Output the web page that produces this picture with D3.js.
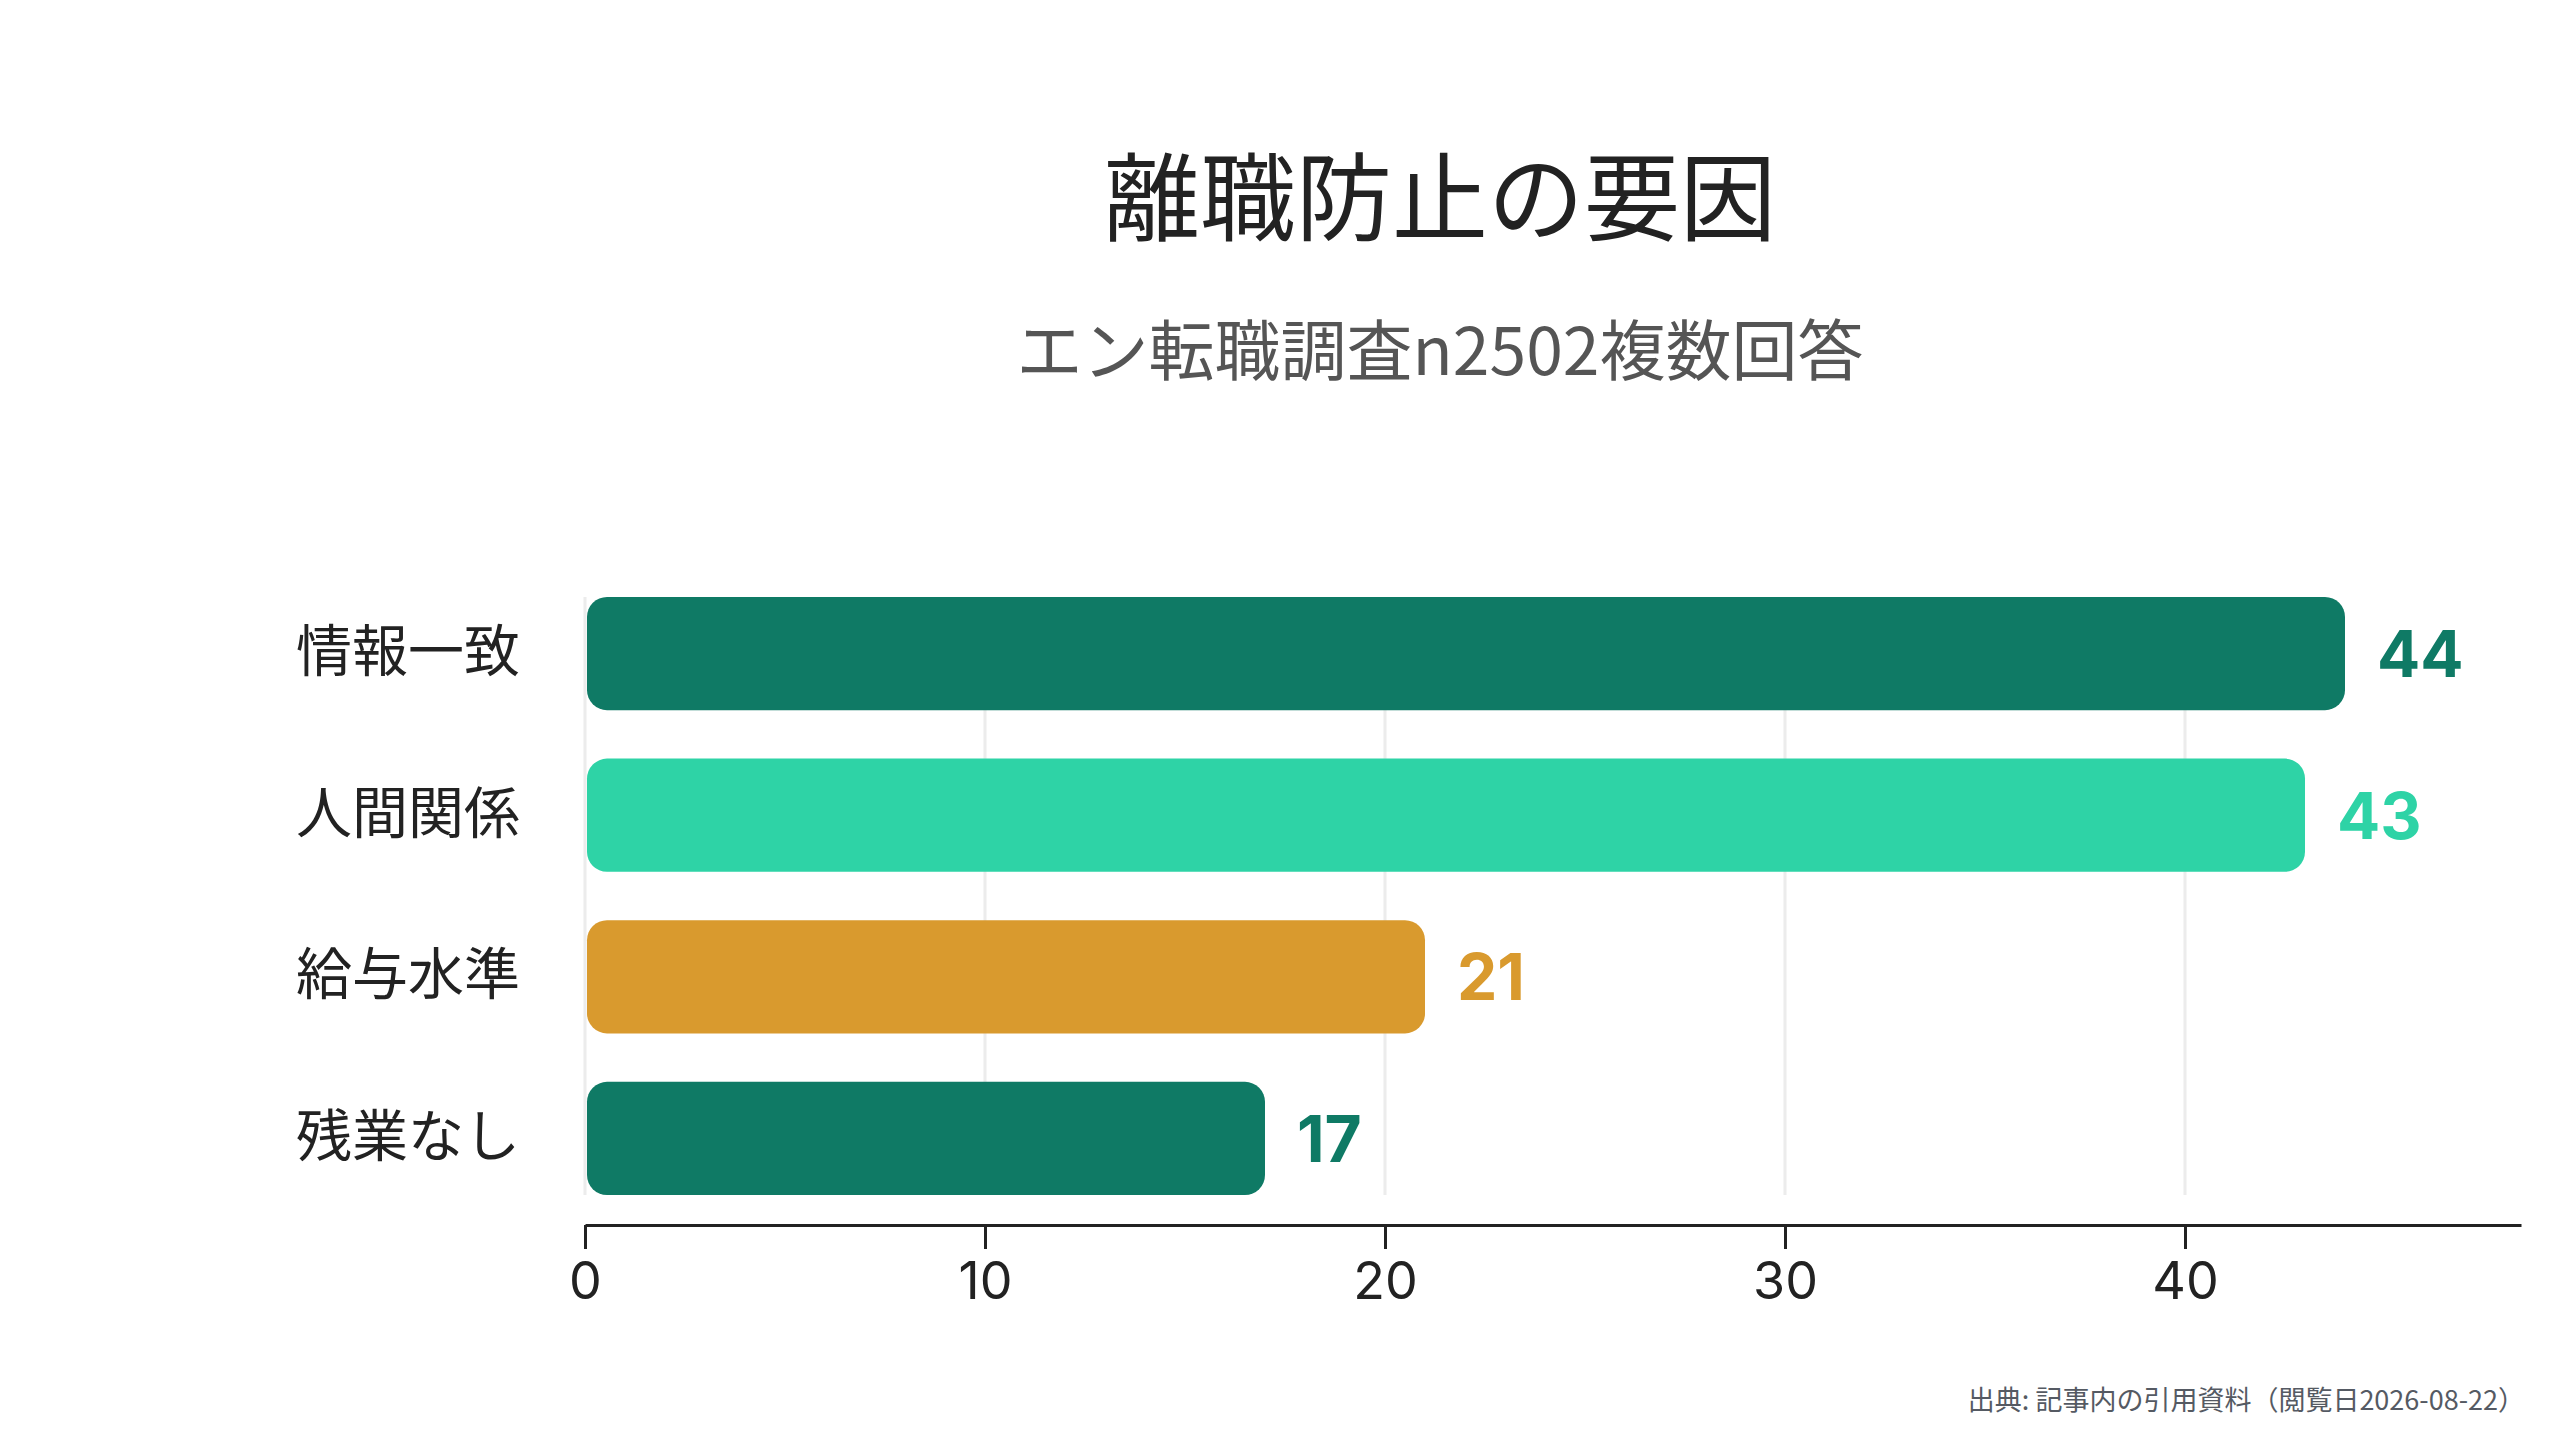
<!DOCTYPE html>
<html lang="ja">
<head>
  <meta charset="UTF-8">
  <title>離職防止の要因</title>
  <style>
    body { margin: 0; background: #fff; }
    svg { display: block; }
    .jp { font-family: "Noto Sans CJK JP", "Noto Sans", sans-serif; }
    .num { font-family: Inter, "Noto Sans", sans-serif; }
  </style>
</head>
<body>
  <svg width="2560" height="1440"></svg>
  <script src="https://cdn.jsdelivr.net/npm/d3@7"></script>
  <script>
    var categories = ['情報一致', '人間関係', '給与水準', '残業なし']
    var values = [44, 43, 21, 17]
    var barColors = ['#0f7a65', '#2ed3a6', '#d99a2e', '#0f7a65']
    var xTicks = [0, 10, 20, 30, 40]

    var title = '離職防止の要因'
    var subtitle = 'エン転職調査n2502複数回答'
    var source = '出典: 記事内の引用資料（閲覧日2026-08-22）'

    var svg = d3.select('svg')

    // plot area (names avoid window.top etc.)
    var plotLeft = 585, plotRight = 2521, plotTop = 597, plotBottom = 1195, axisY = 1225

    var x = d3.scaleLinear()
      .domain([0, d3.max(values) * 1.1])
      .range([plotLeft, plotRight])

    var y = d3.scaleBand()
      .domain(categories)
      .range([plotTop, plotBottom])
      .paddingInner(0.3)
      .paddingOuter(0)

    // title + subtitle
    svg.append('text')
      .attr('class', 'jp')
      .attr('x', 1440).attr('y', 191)
      .attr('text-anchor', 'middle')
      .attr('dominant-baseline', 'central')
      .attr('font-size', 96)
      .attr('fill', '#222')
      .text(title)

    svg.append('text')
      .attr('class', 'jp')
      .attr('x', 1440).attr('y', 346)
      .attr('text-anchor', 'middle')
      .attr('dominant-baseline', 'central')
      .attr('font-size', 66)
      .attr('fill', '#555')
      .text(subtitle)

    // grid lines
    svg.append('g')
      .selectAll('line')
      .data(xTicks)
      .enter()
      .append('line')
      .attr('x1', function(d) { return x(d) })
      .attr('x2', function(d) { return x(d) })
      .attr('y1', plotTop)
      .attr('y2', plotBottom)
      .attr('stroke', '#ececec')
      .attr('stroke-width', 3)

    // bars
    svg.append('g')
      .selectAll('rect')
      .data(values)
      .enter()
      .append('rect')
      .attr('x', x(0) + 2)
      .attr('y', function(d, i) { return y(categories[i]) })
      .attr('width', function(d) { return x(d) - x(0) - 2 })
      .attr('height', y.bandwidth())
      .attr('rx', 20)
      .attr('fill', function(d, i) { return barColors[i] })

    // value labels
    svg.append('g')
      .selectAll('text')
      .data(values)
      .enter()
      .append('text')
      .attr('class', 'num')
      .attr('x', function(d) { return x(d) + 32 })
      .attr('y', function(d, i) { return y(categories[i]) + y.bandwidth() / 2 })
      .attr('dominant-baseline', 'central')
      .attr('font-size', 64)
      .attr('font-weight', 700)
      .attr('fill', function(d, i) { return barColors[i] })
      .text(function(d) { return d })

    // category labels
    svg.append('g')
      .selectAll('text')
      .data(categories)
      .enter()
      .append('text')
      .attr('class', 'jp')
      .attr('x', x(0) - 65)
      .attr('y', function(d) { return y(d) + y.bandwidth() / 2 - 7 })
      .attr('text-anchor', 'end')
      .attr('dominant-baseline', 'central')
      .attr('font-size', 56)
      .attr('fill', '#222')
      .text(function(d) { return d })

    // x axis
    var axis = svg.append('g')
      .attr('transform', 'translate(0,' + axisY + ')')
      .call(d3.axisBottom(x).tickValues(xTicks).tickSize(24).tickSizeOuter(0).tickPadding(13))

    axis.select('.domain').attr('stroke', '#222').attr('stroke-width', 3)
    axis.selectAll('.tick line').attr('stroke', '#222').attr('stroke-width', 3)
    axis.selectAll('.tick text')
      .attr('class', 'num')
      .attr('font-size', 52)
      .attr('fill', '#222')

    // source note
    svg.append('text')
      .attr('class', 'jp')
      .attr('x', 2525).attr('y', 1398)
      .attr('text-anchor', 'end')
      .attr('dominant-baseline', 'central')
      .attr('font-size', 27)
      .attr('fill', '#555a63')
      .text(source)
  </script>
</body>
</html>
